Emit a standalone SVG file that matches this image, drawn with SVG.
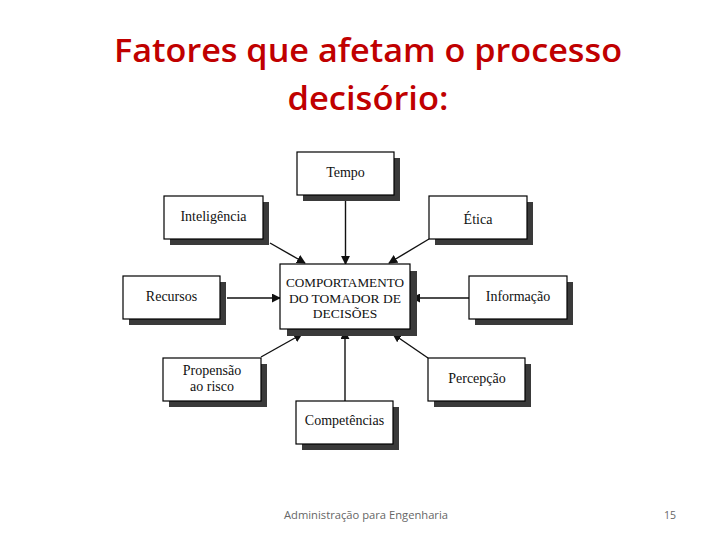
<svg xmlns="http://www.w3.org/2000/svg" width="720" height="540" viewBox="0 0 720 540">
<style>
.sh{fill:#3a3a3a}
.bx{fill:#fff;stroke:#000;stroke-width:1.2}
.t{font-family:"Liberation Serif","DejaVu Serif",serif;font-size:14px;fill:#111;text-anchor:middle}
.tc{font-size:13.5px}
.ln{stroke:#111;stroke-width:1.4;fill:none;marker-end:url(#ah)}
.title{font-family:"Open Sans","Liberation Sans",sans-serif;font-size:32px;font-weight:600;fill:#c00000;text-anchor:middle}
.ft{font-family:"Open Sans","Liberation Sans",sans-serif;font-size:10.5px;fill:#666}
</style>
<defs>
<marker id="ah" viewBox="0 0 10 10" refX="9" refY="5" markerWidth="9" markerHeight="9" markerUnits="userSpaceOnUse" orient="auto">
<path d="M0,0 L10,5 L0,10 z" fill="#111"/>
</marker>
</defs>
<rect width="720" height="540" fill="#fff"/>
<text class="title" x="368" y="62" textLength="508" lengthAdjust="spacingAndGlyphs">Fatores que afetam o processo</text>
<text class="title" x="368" y="110" textLength="161" lengthAdjust="spacingAndGlyphs">decisório:</text>

<g id="connectors">
<line class="ln" x1="345.5" y1="195" x2="345.5" y2="264"/>
<line class="ln" x1="270" y1="243" x2="305" y2="263"/>
<line class="ln" x1="429" y1="239" x2="389" y2="263"/>
<line class="ln" x1="227" y1="298" x2="280" y2="298"/>
<line class="ln" x1="469" y1="298" x2="412" y2="298"/>
<line class="ln" x1="261" y1="357" x2="302" y2="334"/>
<line class="ln" x1="428" y1="358" x2="393" y2="334"/>
<line class="ln" x1="345" y1="401" x2="345" y2="331"/>
</g>

<g id="tempo"><rect class="sh" x="303" y="158" width="97" height="43"/><rect class="bx" x="297" y="152" width="97" height="43"/><text class="t" x="345.5" y="177">Tempo</text></g>
<g id="inteligencia"><rect class="sh" x="170" y="202" width="99" height="43"/><rect class="bx" x="164" y="196" width="99" height="43"/><text class="t" x="213.5" y="221">Inteligência</text></g>
<g id="etica"><rect class="sh" x="435" y="202" width="98" height="43"/><rect class="bx" x="429" y="196" width="98" height="43"/><text class="t" x="478" y="224">Ética</text></g>
<g id="centro"><rect class="sh" x="287" y="271" width="130" height="65"/><rect class="bx" x="280" y="264" width="130" height="65"/><text class="t tc" x="345" y="287" textLength="118" lengthAdjust="spacingAndGlyphs">COMPORTAMENTO</text><text class="t tc" x="345" y="303">DO TOMADOR DE</text><text class="t tc" x="345" y="318">DECISÕES</text></g>
<g id="recursos"><rect class="sh" x="129" y="282" width="97" height="43"/><rect class="bx" x="123" y="276" width="97" height="43"/><text class="t" x="171.5" y="301">Recursos</text></g>
<g id="informacao"><rect class="sh" x="475" y="282" width="98" height="43"/><rect class="bx" x="469" y="276" width="98" height="43"/><text class="t" x="518" y="301">Informação</text></g>
<g id="propensao"><rect class="sh" x="169" y="364" width="98" height="43"/><rect class="bx" x="163" y="358" width="98" height="43"/><text class="t" x="212" y="375">Propensão</text><text class="t" x="212" y="391">ao risco</text></g>
<g id="percepcao"><rect class="sh" x="434" y="364" width="97" height="43"/><rect class="bx" x="428" y="358" width="97" height="43"/><text class="t" x="477" y="383">Percepção</text></g>
<g id="competencias"><rect class="sh" x="302" y="407" width="97" height="43"/><rect class="bx" x="296" y="401" width="97" height="43"/><text class="t" x="344.5" y="425">Competências</text></g>

<text class="ft" x="284" y="519" textLength="164" lengthAdjust="spacingAndGlyphs">Administração para Engenharia</text>
<text class="ft" x="664" y="519">15</text>
</svg>
